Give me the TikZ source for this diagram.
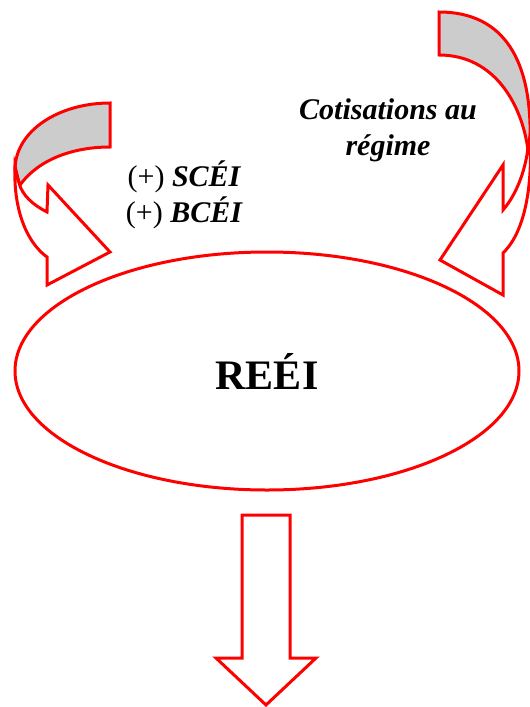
\documentclass[tikz,border=0pt]{standalone}
\usepackage{fontspec}
\setmainfont{Liberation Serif}
\usetikzlibrary{shapes.geometric}

\begin{document}
\begin{tikzpicture}[x=1pt, y=-1pt, line width=3pt, line join=miter,
    blockarrow/.style={draw=red, fill=white},
    backside/.style={draw=red, fill=black!20},
    lbltext/.style={font=\fontsize{30}{36}\selectfont\bfseries\itshape, align=center}]
      \useasboundingbox (0,0) rectangle (530,707);
      % main ellipse
      \node[ellipse, draw=red, minimum width=504pt, minimum height=238pt, inner sep=0pt,
        font=\fontsize{42}{48}\selectfont\bfseries] (reei) at (267,371) {REÉI};
      % left curved arrow
      \draw[backside] (110,103) .. controls (60,103) and (15,130) .. (15,170)
        -- (20,185) .. controls (38,160) and (72,147) .. (110,147) -- cycle;
      \draw[blockarrow] (15,166) .. controls (13,215) and (30,245) .. (47,257)
        -- (47,285) -- (110,252) -- (48,185) -- (47,212)
        .. controls (33,205) and (22,195) .. (19,183) -- cycle;
      % right curved arrow
      \draw[backside] (439,12) .. controls (505,12) and (532,62) .. (530,140)
        -- (528,150) .. controls (522,105) and (495,55) .. (439,55) -- cycle;
      \draw[blockarrow] (530,136) .. controls (533,195) and (522,235) .. (503,253)
        -- (503,295) -- (440,260) -- (503,165) -- (503,210)
        .. controls (516,195) and (525,172) .. (528,148) -- cycle;
      % down arrow
      \draw[blockarrow] (242,515) -- (290,515) -- (290,658) -- (316,658)
        -- (266,705) -- (216,658) -- (242,658) -- cycle;
      % labels
      \node[lbltext] (apports) at (184,195) {{\mdseries\upshape (+)} SCÉI\\{\mdseries\upshape (+)} BCÉI};
      \node[lbltext] (cotis) at (388,130) {Cotisations au\\régime};
    \end{tikzpicture}
\end{document}
